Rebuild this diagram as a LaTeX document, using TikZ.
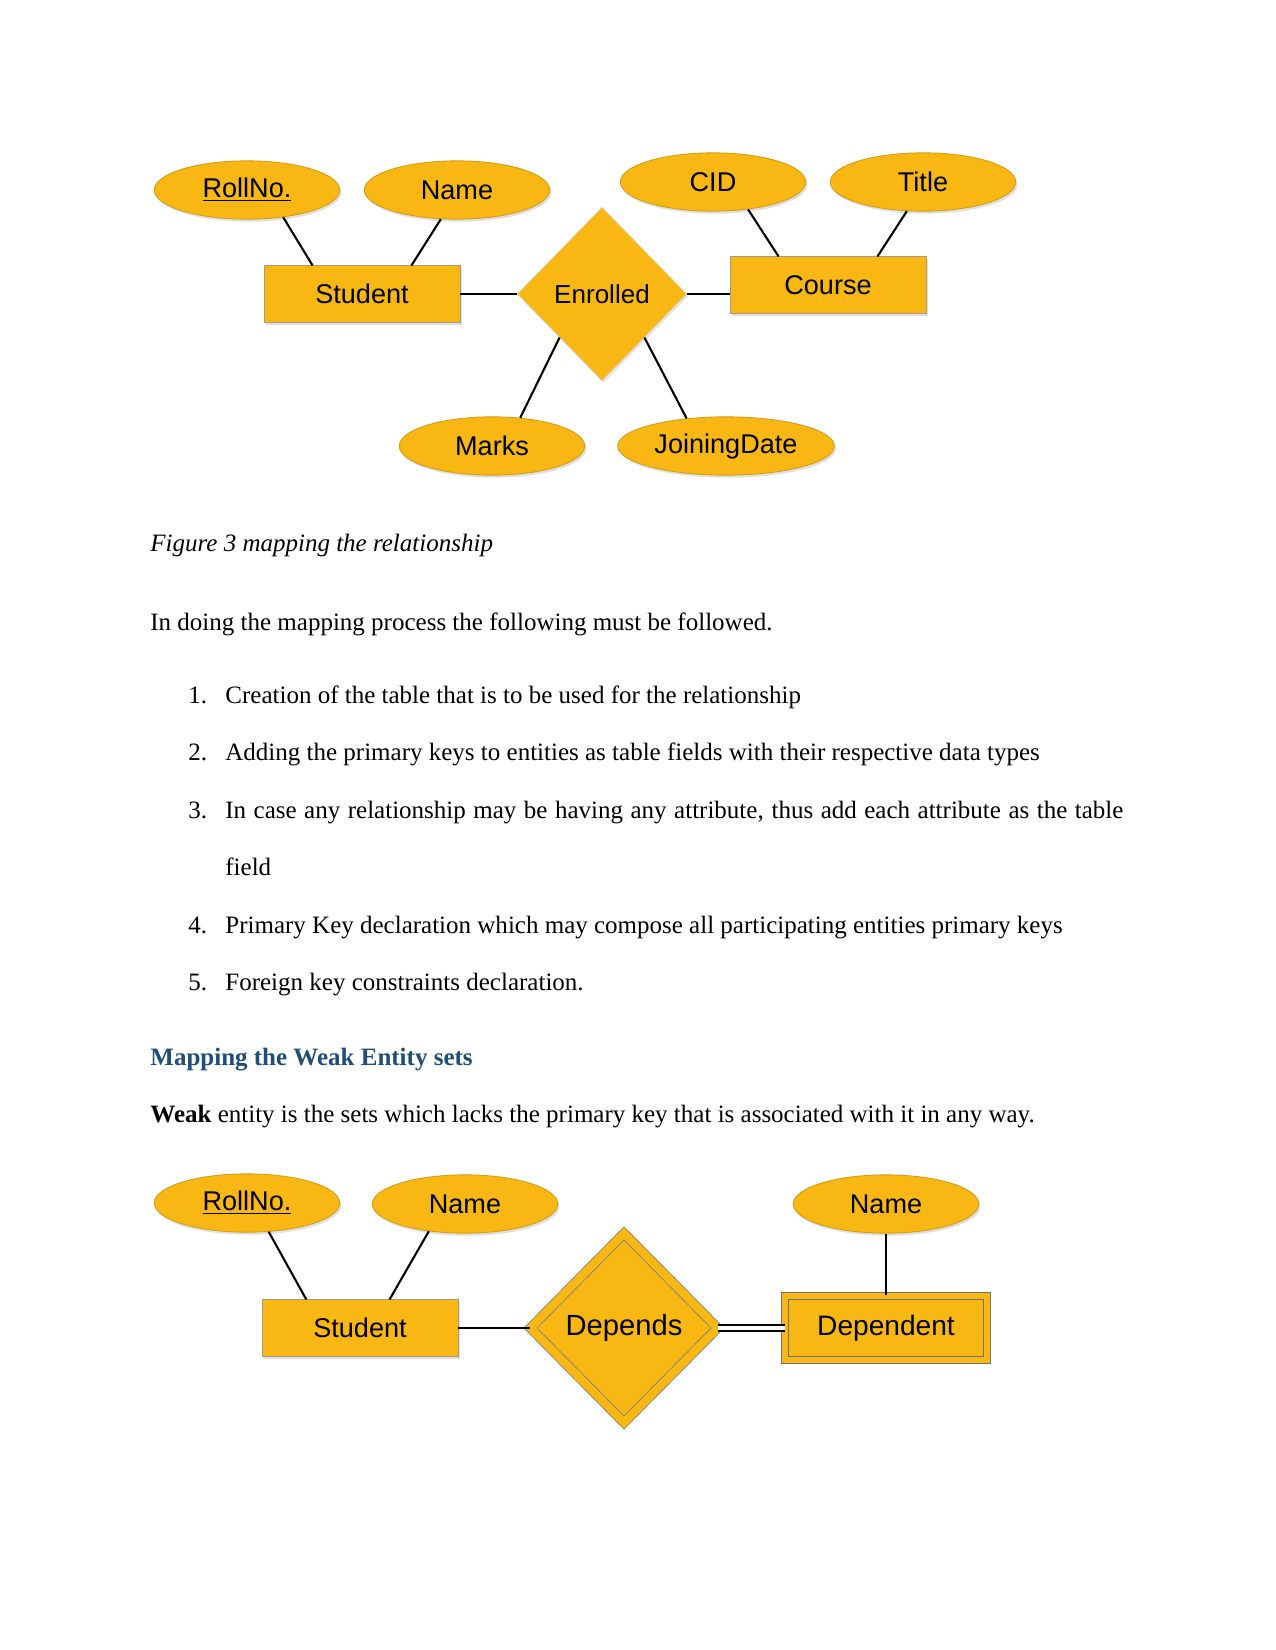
\documentclass[tikz,border=0pt]{standalone}
\usepackage{fontspec}
\setmainfont{Liberation Serif}
\newfontfamily\erfont{Liberation Sans}
\usepackage{tikz}
\usetikzlibrary{positioning,shapes.geometric,shadows}
\definecolor{ErFill}{HTML}{F8B712}
\definecolor{ErEdge}{HTML}{D49B14}
\definecolor{ErBox}{HTML}{A89A80}
\definecolor{HeadBlue}{HTML}{1F4E79}
\tikzset{
erattr/.style={ellipse, draw=ErEdge, fill=ErFill, minimum width=89pt, minimum height=28pt, inner sep=0pt, font=\erfont\fontsize{13pt}{15pt}\selectfont, drop shadow={shadow xshift=0.8pt, shadow yshift=-1.2pt, opacity=0.25}},
erentity/.style={rectangle, draw=ErBox, fill=ErFill, minimum width=94pt, minimum height=27pt, inner sep=0pt, font=\erfont\fontsize{13pt}{15pt}\selectfont, drop shadow={shadow xshift=0.8pt, shadow yshift=-1.2pt, opacity=0.25}},
erweak/.style={erentity, draw=black!55, double=ErFill, double distance=3pt, minimum width=97pt, minimum height=31pt, font=\erfont\fontsize{13.5pt}{15pt}\selectfont},
errel/.style={diamond, draw=ErEdge!60, fill=ErFill, inner sep=0pt, font=\erfont\fontsize{12.5pt}{15pt}\selectfont, drop shadow={shadow xshift=0.8pt, shadow yshift=-1.2pt, opacity=0.2}},
erident/.style={errel, draw=black!50, double=ErFill, double distance=4pt, font=\erfont\fontsize{14pt}{16pt}\selectfont},
erlink/.style={draw=black, line width=1pt},
erdouble/.style={draw=black, double=white, double distance=2.2pt, line width=1pt},
bodytext/.style={anchor=base west, inner sep=0pt}
}
\begin{document}
\begin{tikzpicture}[x=0.48pt, y=-0.48pt, font=\fontsize{12pt}{14pt}\selectfont]
  \useasboundingbox[fill=white] (0,0) rectangle (1275,1650);

  % relationship diagram
  \node[erattr] (rollA) at (247,190) {\underline{RollNo.}};
  \node[erattr] (nameA) at (457,190) {Name};
  \node[erattr] (cid) at (713,182) {CID};
  \node[erattr] (title) at (923,182) {Title};
  \node[erentity] (studentA) at (362,294) {Student};
  \node[errel, minimum width=81pt, minimum height=83pt] (enrolled) at (602,294) {Enrolled};
  \node[erentity] (course) at (828,285) {Course};
  \node[erattr] (marks) at (492,446) {Marks};
  \node[erattr, minimum width=104pt] (joining) at (726,446) {JoiningDate};
  \draw[erlink] (rollA.-37) -- (studentA.150);
  \draw[erlink] (nameA.241) -- (studentA.30);
  \draw[erlink] (cid.-38) -- (course.150);
  \draw[erlink] (title.241) -- (course.30);
  \draw[erlink] (studentA.east) -- (enrolled.west);
  \draw[erlink] (enrolled.east) -- (course.west |- enrolled.east);
  \draw[erlink] (enrolled.south west) -- (marks.45);
  \draw[erlink] (enrolled.south east) -- (joining.145);

  % page text
  \node[bodytext] (caption) at (150,551) {\itshape Figure 3 mapping the relationship};
  \node[bodytext] (intro) at (150,630) {In doing the mapping process the following must be followed.};
  \node[bodytext] (n1) at (188,703) {1.};
  \node[bodytext] (s1) at (225,703) {Creation of the table that is to be used for the relationship};
  \node[bodytext] (n2) at (188,760) {2.};
  \node[bodytext] (s2) at (225,760) {Adding the primary keys to entities as table fields with their respective data types};
  \node[bodytext] (n3) at (188,818) {3.};
  \node[bodytext] (s3) at (225,818) {\makebox[431pt][s]{In case any relationship may be having any attribute, thus add each attribute as the table}};
  \node[bodytext] (s3b) at (225,875) {field};
  \node[bodytext] (n4) at (188,933) {4.};
  \node[bodytext] (s4) at (225,933) {Primary Key declaration which may compose all participating entities primary keys};
  \node[bodytext] (n5) at (188,990) {5.};
  \node[bodytext] (s5) at (225,990) {Foreign key constraints declaration.};
  \node[bodytext, text=HeadBlue, font=\fontsize{12pt}{14pt}\selectfont\bfseries] (heading) at (150,1065) {Mapping the Weak Entity sets};
  \node[bodytext] (weak) at (150,1122) {\textbf{Weak} entity is the sets which lacks the primary key that is associated with it in any way.};

  % weak entity diagram
  \node[erattr] (rollB) at (247,1203) {\underline{RollNo.}};
  \node[erattr] (nameB) at (465,1204) {Name};
  \node[erattr] (nameC) at (886,1204) {Name};
  \node[erentity] (studentB) at (360,1328) {Student};
  \node[erident, minimum width=90pt, minimum height=91pt] (depends) at (624,1328) {Depends};
  \node[erweak] (dependent) at (886,1328) {Dependent};
  \draw[erlink] (rollB.-53) -- (studentB.152);
  \draw[erlink] (nameB.-143) -- (studentB.44);
  \draw[erlink] (nameC.south) -- (dependent.north);
  \draw[erlink] (studentB.east) -- (depends.west);
  \draw[erdouble] (depends.east) -- (dependent.west);
\end{tikzpicture}
\end{document}
